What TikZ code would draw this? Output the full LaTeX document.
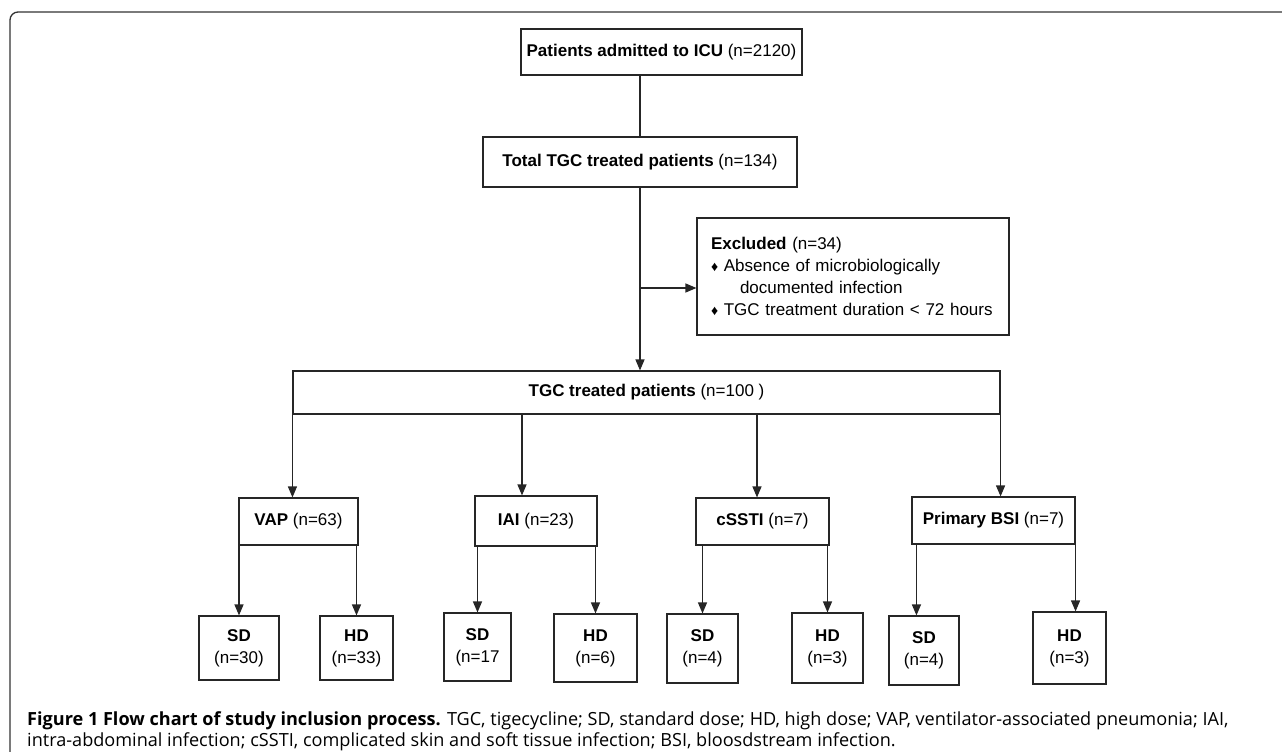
\documentclass[tikz,border=0pt]{standalone}
\usepackage{fontspec}
\setmainfont{Liberation Sans}
\newfontfamily\capfont{Open Sans}
\usetikzlibrary{arrows.meta}

\begin{document}
\begin{tikzpicture}[x=1pt,y=-1pt,
    box/.style={draw=black!85,line width=1.1pt,inner sep=0pt,align=center,font=\fontsize{17}{22}\selectfont},
    arr/.style={draw=black!85,line width=1.2pt,-{Triangle[length=11pt,width=9pt]}},
    conn/.style={draw=black!85,line width=1.2pt}]
  \useasboundingbox (0,0) rectangle (1282,752);
  \draw[line width=1.3pt,black!80,rounded corners=8pt] (10,752) -- (10,12) -- (1282,12);

  \node[box,minimum width=281pt,minimum height=46pt] (icu) at (661.5,52) {\textbf{Patients admitted to ICU} (n=2120)};
  \node[box,minimum width=314pt,minimum height=50pt] (total) at (640,162) {\textbf{Total TGC treated patients} (n=134)};
  \node[box,align=left,text width=284pt,inner xsep=14pt,minimum height=117pt] (excl) at (853,276.5) {\textbf{Excluded} (n=34)\\
    {\fontsize{14}{14}\selectfont ♦} Absence of microbiologically\\
    \hspace*{29pt}documented infection\\
    {\fontsize{14}{14}\selectfont ♦} TGC treatment duration < 72 hours};
  \node[box,minimum width=707pt,minimum height=43pt] (tgc) at (646.5,392.5) {\textbf{TGC treated patients} (n=100 )};

  \node[box,minimum width=119pt,minimum height=47pt] (vap) at (298.5,521.5) {\textbf{VAP} (n=63)};
  \node[box,minimum width=122pt,minimum height=50pt] (iai) at (536,521) {\textbf{IAI} (n=23)};
  \node[box,minimum width=133pt,minimum height=47pt] (cssti) at (762.5,521.5) {\textbf{cSSTI} (n=7)};
  \node[box,minimum width=163pt,minimum height=47pt] (bsi) at (993.5,520.5) {\textbf{Primary BSI} (n=7)};

  \node[box,minimum width=80pt,minimum height=64pt] (vapsd) at (239,648) {\textbf{SD}\\(n=30)};
  \node[box,minimum width=73pt,minimum height=64pt] (vaphd) at (356.5,648) {\textbf{HD}\\(n=33)};
  \node[box,minimum width=67pt,minimum height=68pt] (iaisd) at (477.5,647) {\textbf{SD}\\(n=17};
  \node[box,minimum width=83pt,minimum height=68pt] (iaihd) at (595.5,648) {\textbf{HD}\\(n=6)};
  \node[box,minimum width=71pt,minimum height=69pt] (cssd) at (702.5,648.5) {\textbf{SD}\\(n=4)};
  \node[box,minimum width=71pt,minimum height=70pt] (cshd) at (827.5,648) {\textbf{HD}\\(n=3)};
  \node[box,minimum width=70pt,minimum height=69pt] (bsisd) at (924,650.5) {\textbf{SD}\\(n=4)};
  \node[box,minimum width=73pt,minimum height=72pt] (bsihd) at (1069.5,648) {\textbf{HD}\\(n=3)};

  \draw[conn] (total.north) -- (total.north |- icu.south);
  \draw[arr] (total.south) -- (total.south |- tgc.north);
  \coordinate (split) at (640,288);
  \draw[arr] (split) -- (split -| excl.west);

  \draw[arr] (tgc.south west) -- (tgc.south west |- vap.north);
  \draw[arr] ([xshift=-14pt]iai.north |- tgc.south) -- ([xshift=-14pt]iai.north);
  \draw[arr] ([xshift=-5.5pt]cssti.north |- tgc.south) -- ([xshift=-5.5pt]cssti.north);
  \draw[arr] (tgc.south east) -- (tgc.south east |- bsi.north);

  \foreach \leaf/\parent in {vapsd/vap,vaphd/vap,iaisd/iai,iaihd/iai,cssd/cssti,cshd/cssti}
    \draw[arr] (\leaf.north |- \parent.south) -- (\leaf.north);
  \draw[arr] ([xshift=5pt]bsi.south west) -- ([xshift=5pt]bsi.south west |- bsisd.north);
  \draw[arr] (bsi.south east) -- (bsi.south east |- bsihd.north);

  \node[anchor=base west,inner sep=0pt,align=left,font=\capfont\fontsize{18.1}{21}\selectfont] (caption) at (27,746)
    {\textbf{Figure 1 Flow chart of study inclusion process.} TGC, tigecycline; SD, standard dose; HD, high dose; VAP, ventilator-associated pneumonia; IAI,\\
    intra-abdominal infection; cSSTI, complicated skin and soft tissue infection; BSI, bloosdstream infection.};
\end{tikzpicture}
\end{document}
